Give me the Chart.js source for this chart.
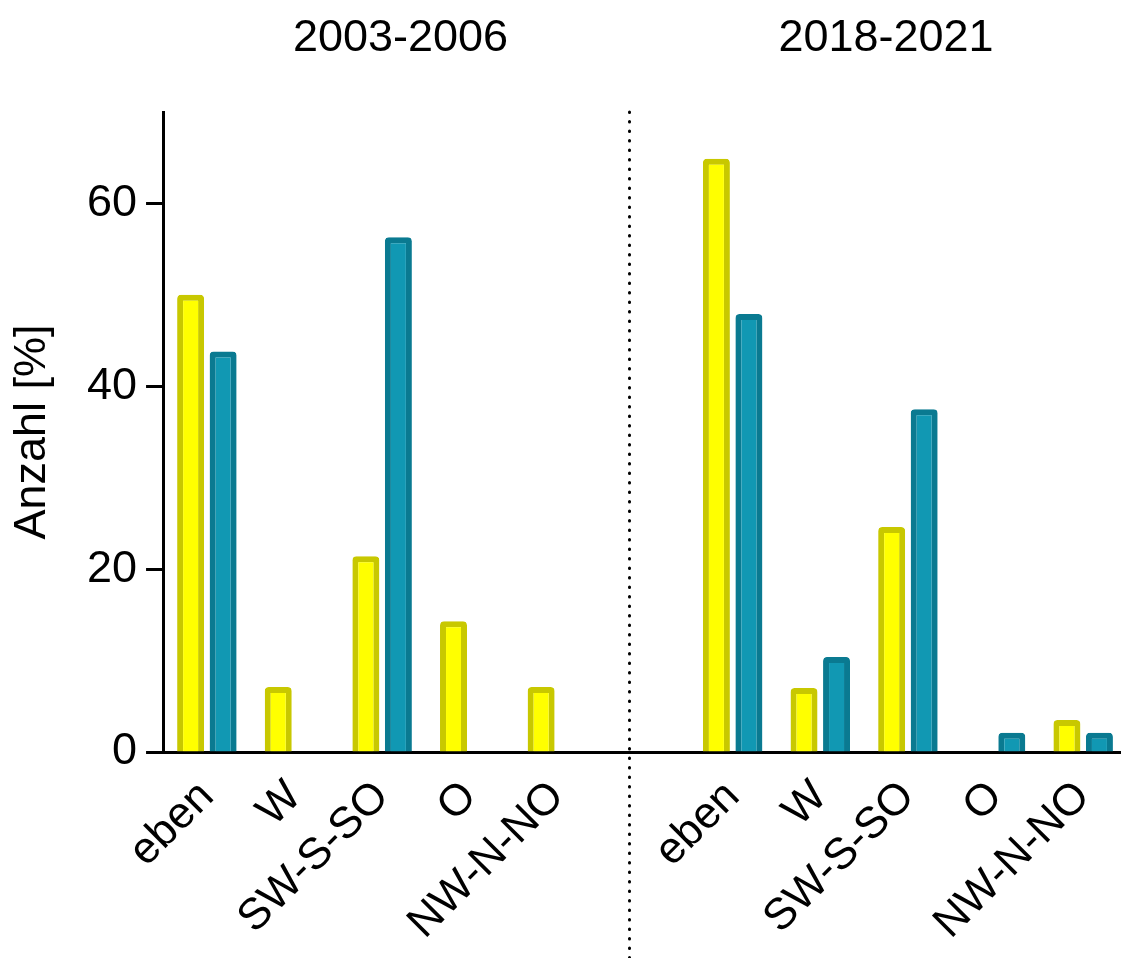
<!DOCTYPE html>
<html>
<head>
<meta charset="utf-8">
<script src="https://cdn.jsdelivr.net/npm/chart.js@4.4.1/dist/chart.umd.min.js"></script>
<style>
    html, body { margin: 0; padding: 0; background: #fff; overflow: hidden; }
    #wrap { position: relative; width: 1127px; height: 958px; }
</style>
</head>
<body>
<div id="wrap"><canvas id="expoChart"></canvas></div>
<script>
// Exposition classes, same for both periods
const categories = ['eben', 'W', 'SW-S-SO', 'O', 'NW-N-NO'];
const periods = ['2003-2006', '2018-2021'];

// Values in percent
const yellow2003 = [50.0, 7.1, 21.4, 14.3, 7.1];
const teal2003 = [43.8, null, 56.3, null, null];
const yellow2018 = [64.9, 7.0, 24.6, null, 3.5];
const teal2018 = [47.9, 10.4, 37.5, 2.1, 2.1];

const yTicks = [0, 20, 40, 60];
const yMax = 70;

// Positions (in category units) of the period headings and the divider
const titleAt = [2.21, 7.75];
const dividerAt = 4.82;

const FONT = '"Liberation Sans", Arial, Helvetica, sans-serif';

// One empty slot separates the two periods
const labels = [...categories, '', ...categories];
const yellowData = [...yellow2003, null, ...yellow2018];
const tealData = [...teal2003, null, ...teal2018];

/**
 * Draws the period headings and the dotted divider
 */
const periodPlugin = {
    id: 'periods',
    afterDraw(chart) {
        const { ctx, chartArea, scales: { x } } = chart;
        ctx.save();

        ctx.font = '45px ' + FONT;
        ctx.fillStyle = '#000';
        ctx.textAlign = 'center';
        ctx.textBaseline = 'alphabetic';
        periods.forEach((text, i) => {
            ctx.fillText(text, x.getPixelForValue(titleAt[i]), chartArea.top - 61);
        });

        const dx = Math.round(x.getPixelForValue(dividerAt)) + 0.5;
        ctx.strokeStyle = '#000';
        ctx.lineWidth = 3;
        ctx.lineCap = 'round';
        ctx.setLineDash([0.5, 9]);
        ctx.beginPath();
        ctx.moveTo(dx, chartArea.top);
        ctx.lineTo(dx, chart.height);
        ctx.stroke();
        ctx.restore();
    }
};

const barStyle = {
    borderWidth: 6,
    borderSkipped: 'bottom',
    borderRadius: { topLeft: 4, topRight: 4, bottomLeft: 0, bottomRight: 0 },
    barPercentage: 0.83,
    categoryPercentage: 0.742
};

new Chart(document.getElementById('expoChart'), {
    type: 'bar',
    data: {
        labels,
        datasets: [{
            label: 'Serie 1',
            data: yellowData,
            backgroundColor: '#ffff00',
            borderColor: '#c8c800',
            ...barStyle
        }, {
            label: 'Serie 2',
            data: tealData,
            backgroundColor: '#1198b3',
            borderColor: '#0a7a91',
            ...barStyle
        }]
    },
    options: {
        responsive: true,
        maintainAspectRatio: false,
        animation: false,
        layout: {
            padding: { top: 112, left: 5, right: 0, bottom: 0 }
        },
        plugins: {
            legend: { display: false },
            tooltip: { enabled: false }
        },
        scales: {
            x: {
                // invisible tick marks only push the slanted labels down
                grid: {
                    display: true,
                    drawOnChartArea: false,
                    drawTicks: true,
                    tickLength: 16,
                    tickColor: 'rgba(0,0,0,0)'
                },
                border: { display: true, color: '#000', width: 3 },
                ticks: {
                    autoSkip: false,
                    minRotation: 45,
                    maxRotation: 45,
                    padding: 3,
                    color: '#000',
                    font: { family: FONT, size: 44 }
                },
                afterFit: (scale) => {
                    scale.height = 206;
                }
            },
            y: {
                min: 0,
                max: yMax,
                afterBuildTicks: (scale) => {
                    scale.ticks = yTicks.map(v => ({ value: v }));
                },
                grid: {
                    drawOnChartArea: false,
                    drawTicks: true,
                    tickLength: 17,
                    tickWidth: 3,
                    tickColor: '#000'
                },
                border: { display: true, color: '#000', width: 3 },
                ticks: {
                    padding: 9,
                    color: '#000',
                    font: { family: FONT, size: 45 }
                },
                title: {
                    display: true,
                    text: 'Anzahl [%]',
                    color: '#000',
                    font: { family: FONT, size: 45 },
                    padding: { top: 1, bottom: 18 }
                }
            }
        }
    },
    plugins: [periodPlugin]
});
</script>
</body>
</html>
